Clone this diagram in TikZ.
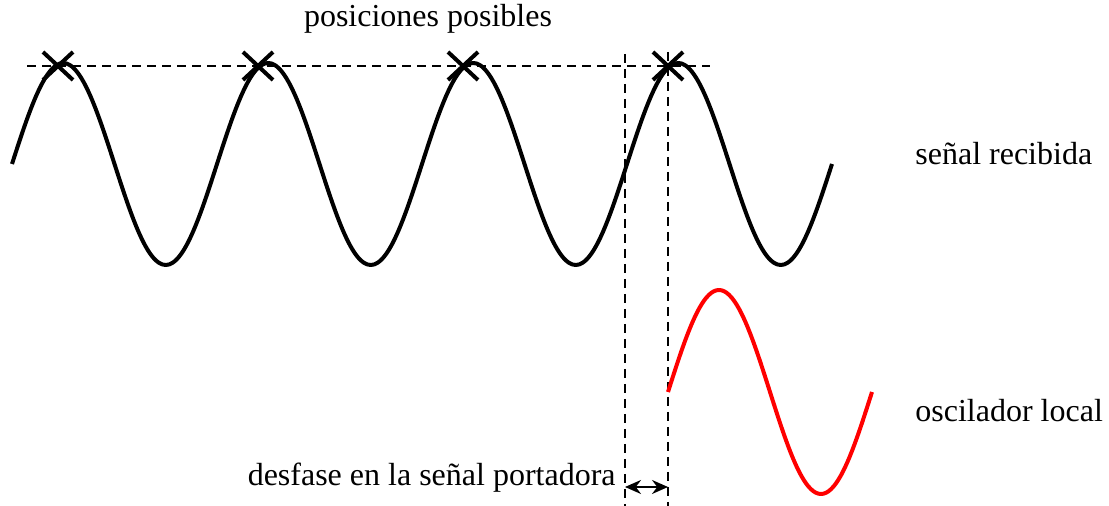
\documentclass[tikz,border=0pt]{standalone}
\usepackage{fontspec}
\setmainfont{Liberation Serif}
\usetikzlibrary{arrows.meta}
\tikzset{
  wave/.style={line width=2pt, line join=round},
  guide/.style={line width=1.4pt, dash pattern=on 4.5pt off 3pt},
  xmark/.style={line width=2pt},
  lbl/.style={inner sep=0pt, anchor=base west, font=\fontsize{16}{19}\selectfont},
  gap/.style={line width=1pt, {Stealth[length=8pt,width=7pt]}-{Stealth[length=8pt,width=7pt]}}
}
\begin{document}
\begin{tikzpicture}[x=0.5pt, y=-0.5pt]
\useasboundingbox (0,0) rectangle (1109,506);
% guides
\coordinate (hL) at (27,66);
\coordinate (hR) at (710,66);
\coordinate (v1t) at (625,54);
\coordinate (v1b) at (625,506);
\coordinate (v2t) at (668,52);
\coordinate (v2b) at (668,506);
\draw[guide] (hL) -- (hR);
\draw[guide] (v1t) -- (v1b);
\draw[guide] (v2t) -- (v2b);
% received signal
\draw[wave] plot[domain=12:832, samples=241, smooth] (\x, {164-101*sin(1.756098*(\x-12))});
% local oscillator
\draw[wave, red] plot[domain=668:872, samples=81, smooth] (\x, {392-102*sin(1.764706*(\x-668))});
% crosses
\foreach \n/\px in {1/58, 2/258, 3/463, 4/668} {
  \coordinate (x\n) at (\px,66);
  \draw[xmark] ([shift={(-15,-14)}]x\n) -- ([shift={(15,14)}]x\n);
  \draw[xmark] ([shift={(-15,14)}]x\n) -- ([shift={(15,-14)}]x\n);
}
% phase arrow
\coordinate (aL) at (625,487);
\coordinate (aR) at (668,487);
\draw[gap] (aL) -- (aR);
% labels
\node[lbl, anchor=base] (pos) at (428,27) {posiciones posibles};
\node[lbl] (rec) at (915,165) {señal recibida};
\node[lbl] (osc) at (915,422) {oscilador local};
\node[lbl, anchor=base east] (des) at (616,486) {desfase en la señal portadora};
\end{tikzpicture}
\end{document}
